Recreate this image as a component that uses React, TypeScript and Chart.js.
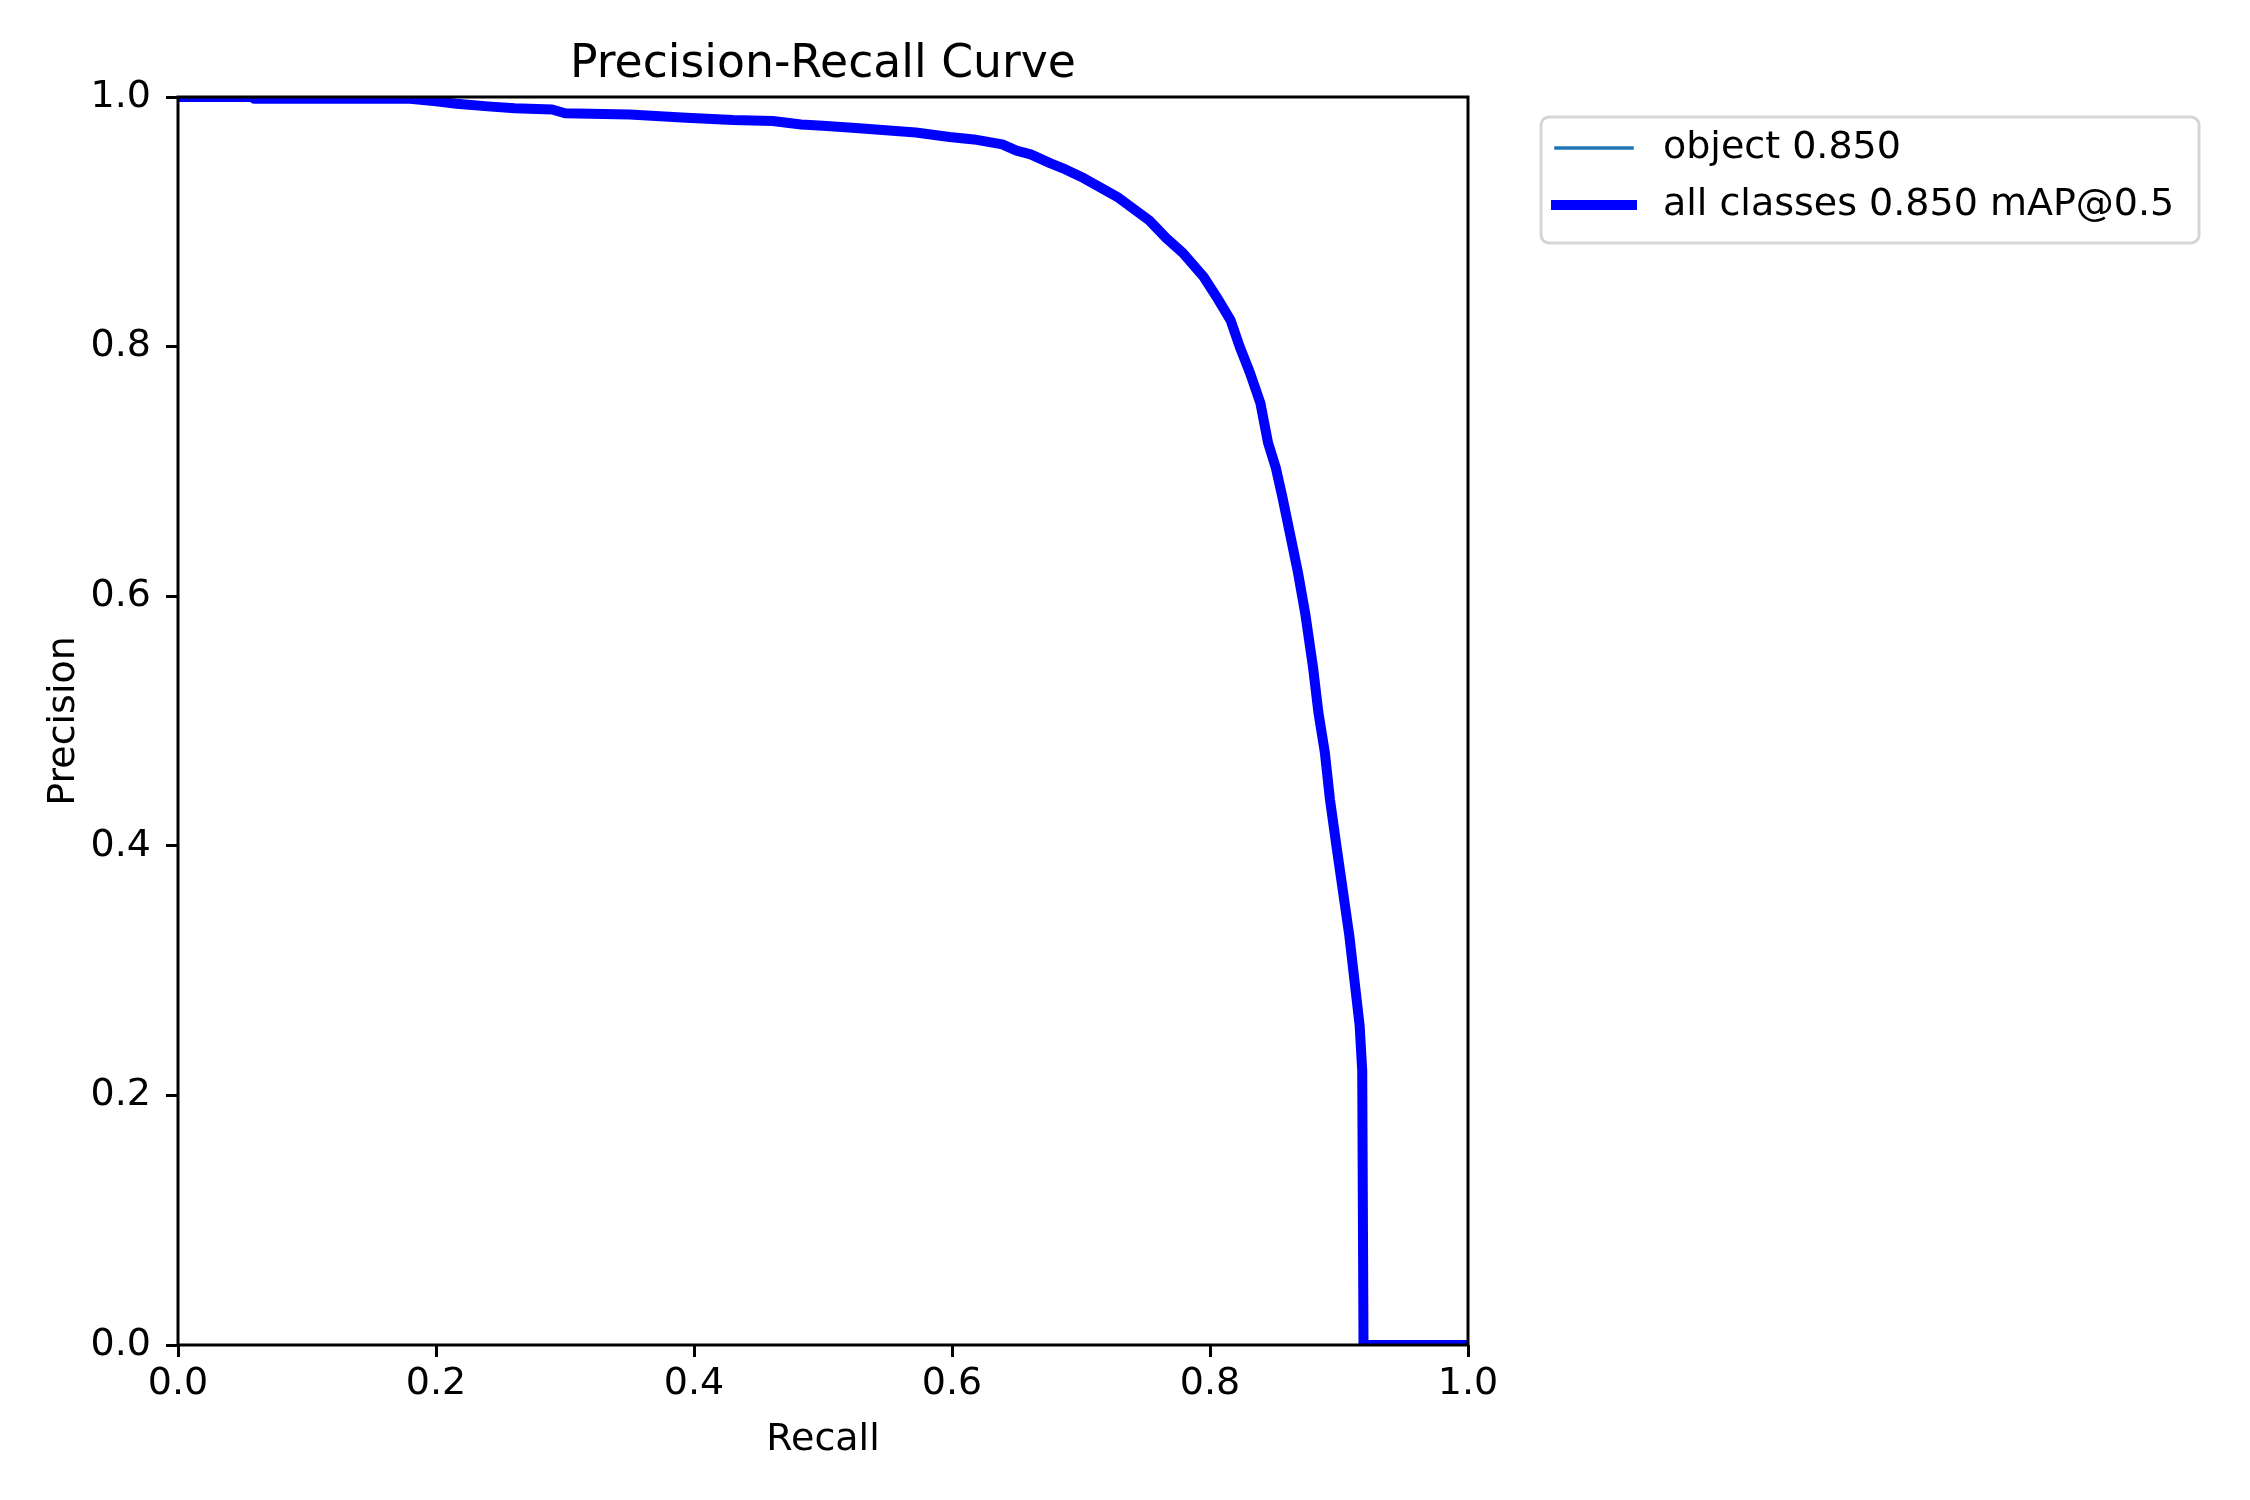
import React, { useEffect, useRef } from 'react';
import { Chart, registerables } from 'chart.js';

Chart.register(...registerables);

// PR curve (recall -> precision)
const recall = [
    0.0, 0.058, 0.059, 0.18, 0.2, 0.216, 0.24, 0.261, 0.29, 0.3,
    0.35, 0.394, 0.43, 0.461, 0.483, 0.5, 0.528, 0.572, 0.598, 0.617,
    0.639, 0.65, 0.661, 0.676, 0.688, 0.702, 0.728, 0.753, 0.766, 0.779,
    0.795, 0.805, 0.816, 0.823, 0.831, 0.839, 0.845, 0.851, 0.856, 0.862,
    0.868, 0.874, 0.88, 0.884, 0.889, 0.893, 0.898, 0.903, 0.908, 0.912,
    0.916, 0.918, 0.919, 1.0,
];
const precision = [
    1.0, 1.0, 0.9985, 0.9985, 0.9965, 0.9946, 0.9925, 0.991, 0.99, 0.987,
    0.986, 0.9834, 0.9815, 0.9808, 0.978, 0.977, 0.975, 0.9716, 0.968, 0.966,
    0.962, 0.957, 0.954, 0.947, 0.942, 0.935, 0.92, 0.901, 0.887, 0.875,
    0.856, 0.84, 0.821, 0.8, 0.779, 0.755, 0.723, 0.703, 0.68, 0.65,
    0.62, 0.585, 0.542, 0.507, 0.475, 0.437, 0.4, 0.364, 0.328, 0.292,
    0.256, 0.22, 0.0, 0.0,
];

const seriesLabels = ['object 0.850', 'all classes 0.850 mAP@0.5'];
const seriesColors = ['#1f77b4', '#0000ff'];
const seriesWidths = [3.5, 10];
const axisTicks = [0.0, 0.2, 0.4, 0.6, 0.8, 1.0];

const FONT = '"DejaVu Sans", sans-serif';
const FS = 38;

// matplotlib-like title, spines and legend frame
const mplDecor = {
    id: 'mplDecor',
    afterDatasetsDraw(chart: any) {
        const { ctx, chartArea: a } = chart;
        ctx.save();
        ctx.strokeStyle = '#000';
        ctx.lineWidth = 3;
        ctx.strokeRect(a.left, a.top, a.right - a.left, a.bottom - a.top);
        ctx.restore();
    },
    afterDraw(chart: any) {
        const { ctx, chartArea: a } = chart;
        ctx.save();
        ctx.fillStyle = '#000';
        ctx.font = `45.7px ${FONT}`;
        ctx.textAlign = 'center';
        ctx.textBaseline = 'alphabetic';
        ctx.fillText('Precision-Recall Curve', (a.left + a.right) / 2, a.top - 20);

        // legend box
        const x0 = a.right + 73;
        const y0 = a.top + 20;
        const w = 658;
        const h = 126;
        const r = 8;
        ctx.beginPath();
        ctx.moveTo(x0 + r, y0);
        ctx.arcTo(x0 + w, y0, x0 + w, y0 + h, r);
        ctx.arcTo(x0 + w, y0 + h, x0, y0 + h, r);
        ctx.arcTo(x0, y0 + h, x0, y0, r);
        ctx.arcTo(x0, y0, x0 + w, y0, r);
        ctx.closePath();
        ctx.fillStyle = 'rgba(255,255,255,0.8)';
        ctx.fill();
        ctx.strokeStyle = '#d6d6d6';
        ctx.lineWidth = 3;
        ctx.stroke();

        ctx.font = `${FS}px ${FONT}`;
        ctx.textAlign = 'left';
        ctx.textBaseline = 'middle';
        chart.data.datasets.forEach((ds: any, i: number) => {
            const y = y0 + 31 + i * 57;
            ctx.beginPath();
            ctx.moveTo(x0 + 15, y);
            ctx.lineTo(x0 + 91, y);
            ctx.strokeStyle = ds.borderColor;
            ctx.lineWidth = ds.borderWidth;
            ctx.lineCap = 'square';
            ctx.stroke();
            ctx.fillStyle = '#000';
            ctx.fillText(ds.label, x0 + 122, y);
        });
        ctx.restore();
    },
};

const axisCommon = (titleText: string, titlePad: any) => ({
    type: 'linear' as const,
    min: 0,
    max: 1,
    afterBuildTicks: (scale: any) => {
        scale.ticks = axisTicks.map((v) => ({ value: v }));
    },
    border: { display: false },
    grid: {
        display: true,
        drawOnChartArea: false,
        drawTicks: true,
        tickLength: 12,
        tickWidth: 3,
        tickColor: '#000',
    },
    title: {
        display: true,
        text: titleText,
        color: '#000',
        font: { family: FONT, size: FS, lineHeight: 1.2 },
        padding: titlePad,
    },
});

export default function App() {
    const canvasRef = useRef<HTMLCanvasElement>(null);
    const chartRef = useRef<Chart | null>(null);

    useEffect(() => {
        document.body.style.margin = '0';
        if (!canvasRef.current) return;
        if (chartRef.current) chartRef.current.destroy();

        const points = recall.map((x, i) => ({ x, y: precision[i] }));

        chartRef.current = new Chart(canvasRef.current, {
            type: 'line',
            data: {
                datasets: seriesLabels.map((label, i) => ({
                    label,
                    data: points,
                    borderColor: seriesColors[i],
                    backgroundColor: seriesColors[i],
                    borderWidth: seriesWidths[i],
                    borderJoinStyle: 'round' as const,
                    pointRadius: 0,
                    tension: 0,
                    fill: false,
                    clip: 0,
                    order: i === 0 ? 1 : 0,
                })),
            },
            plugins: [mplDecor],
            options: {
                responsive: false,
                devicePixelRatio: 1,
                animation: false,
                events: [],
                layout: { padding: { left: 0, top: 97, right: 782, bottom: 0 } },
                plugins: {
                    legend: { display: false },
                    tooltip: { enabled: false },
                    title: { display: false },
                },
                scales: {
                    x: {
                        ...axisCommon('Recall', { top: 0, bottom: 37 }),
                        position: 'bottom',
                        afterFit: (scale: any) => {
                            scale.height = 155;
                        },
                        ticks: {
                            color: '#000',
                            padding: 4,
                            maxRotation: 0,
                            font: { family: FONT, size: FS, lineHeight: 1.2 },
                            callback: (v: any) => Number(v).toFixed(1),
                        },
                    },
                    y: {
                        ...axisCommon('Precision', { top: 41, bottom: 0 }),
                        position: 'left',
                        afterFit: (scale: any) => {
                            scale.width = 178;
                        },
                        ticks: {
                            color: '#000',
                            padding: 15,
                            font: { family: FONT, size: FS, lineHeight: 1.2 },
                            callback: (v: any) => Number(v).toFixed(1),
                        },
                    },
                },
            },
        });

        return () => {
            if (chartRef.current) chartRef.current.destroy();
            chartRef.current = null;
        };
    }, []);

    return (
        <div style={{ width: 2250, height: 1500, background: '#fff' }}>
            <canvas ref={canvasRef} width={2250} height={1500} style={{ width: 2250, height: 1500 }}></canvas>
        </div>
    );
}
